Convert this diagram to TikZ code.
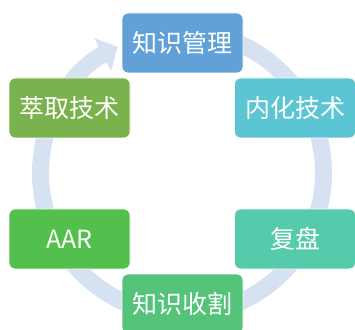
\documentclass[tikz,border=0pt]{standalone}
\usepackage{fontspec}
\setmainfont{Noto Sans CJK SC}
\usetikzlibrary{arrows.meta}

\definecolor{ringblue}{RGB}{214,225,241}
\definecolor{kmblue}{RGB}{98,161,216}
\definecolor{nhcyan}{RGB}{92,197,211}
\definecolor{fpteal}{RGB}{85,203,172}
\definecolor{sggreen}{RGB}{83,196,122}
\definecolor{aargreen}{RGB}{83,191,77}
\definecolor{cqolive}{RGB}{122,179,77}

\begin{document}
\begin{tikzpicture}[x=1pt,y=1pt,
   stage/.style={rectangle, rounded corners=6pt, draw=white, line width=0.8pt,
                 minimum width=121pt, minimum height=60pt, inner sep=0pt,
                 text=white, font=\fontsize{25}{28}\selectfont}]
   \useasboundingbox (0,0) rectangle (355,329);

   % ring
   \draw[ringblue, line width=17pt, -{Triangle[width=36pt,length=17pt]}]
     (182,297.5) arc[start angle=90, end angle=-243, radius=141.5];

   \node[stage, fill=kmblue]   (km)   at (182.5,286) {知识管理};
   \node[stage, fill=nhcyan]   (nh)   at (295,221)   {内化技术};
   \node[stage, fill=fpteal]   (fp)   at (295,90)    {复盘};
   \node[stage, fill=sggreen]  (sg)   at (182.5,25)  {知识收割};
   \node[stage, fill=aargreen] (aar)  at (69.5,90)   {AAR};
   \node[stage, fill=cqolive]  (cq)   at (69.5,221)  {萃取技术};
\end{tikzpicture}
\end{document}
